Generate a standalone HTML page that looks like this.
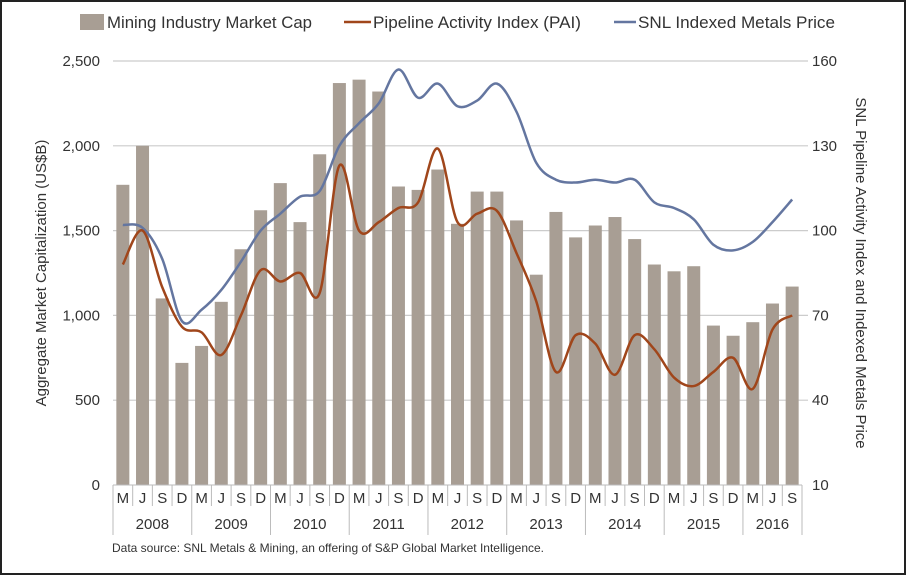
<!DOCTYPE html>
<html><head><meta charset="utf-8"><style>
body{margin:0;background:#fff}
svg{display:block;font-family:"Liberation Sans",sans-serif}
</style></head><body>
<svg id="c" width="906" height="576" viewBox="0 0 906 576">
<rect x="1" y="1" width="904" height="573" fill="#fff" stroke="#222" stroke-width="2"/>
<g id="grid"></g><g id="bars"></g><g id="lines"></g><g id="axes"></g>
<g font-size="17" fill="#333">
<rect x="80" y="14" width="24" height="16" fill="#a89e94"/>
<text x="107" y="28" textLength="205" lengthAdjust="spacingAndGlyphs">Mining Industry Market Cap</text>
<line x1="344" y1="22" x2="371" y2="22" stroke="#a0461b" stroke-width="2.5"/>
<text x="373" y="28" textLength="208" lengthAdjust="spacingAndGlyphs">Pipeline Activity Index (PAI)</text>
<line x1="614" y1="22" x2="636" y2="22" stroke="#6476a0" stroke-width="2.5"/>
<text x="638" y="28" textLength="197" lengthAdjust="spacingAndGlyphs">SNL Indexed Metals Price</text>
</g>
<text transform="translate(46,273) rotate(-90)" text-anchor="middle" font-size="15" fill="#333">Aggregate Market Capitalization (US$B)</text>
<text transform="translate(856,273) rotate(90)" text-anchor="middle" font-size="15" fill="#333">SNL Pipeline Activity Index and Indexed Metals Price</text>
<text x="112" y="552" font-size="12" fill="#333">Data source: SNL Metals &amp; Mining, an offering of S&amp;P Global Market Intelligence.</text>
</svg>
<script>
const months=["M","J","S","D","M","J","S","D","M","J","S","D","M","J","S","D","M","J","S","D","M","J","S","D","M","J","S","D","M","J","S","D","M","J","S"];
const years=["2008","2009","2010","2011","2012","2013","2014","2015","2016"];
const marketCap=[1770,2000,1100,720,820,1080,1390,1620,1780,1550,1950,2370,2390,2320,1760,1740,1860,1540,1730,1730,1560,1240,1610,1460,1530,1580,1450,1300,1260,1290,940,880,960,1070,1170];
const pai=[88,100,80,66,64,56,70,86,82,85,78,123,100,103,108,110,129,103,106,107,92,75,50,63,60,49,63,58,48,45,50,55,44,65,70];
const snl=[102,101,90,68,72,79,89,100,106,112,114,130,138,145,157,147,152,144,146,152,142,124,118,117,118,117,118,110,108,104,95,93,96,103,111];
const leftTicks=[0,500,1000,1500,2000,2500];
const rightTicks=[10,40,70,100,130,160];
const NS="http://www.w3.org/2000/svg";
const X0=113,X1=802,YT=61,YB=485;
const bw=(X1-X0)/months.length;
const xc=i=>X0+bw*(i+0.5);
const yL=v=>YB-(v/2500)*(YB-YT);
const yR=v=>YB-((v-10)/150)*(YB-YT);
function mk(tag,attrs,parent){const e=document.createElementNS(NS,tag);for(const k in attrs)e.setAttribute(k,attrs[k]);parent.appendChild(e);return e;}
const grid=document.getElementById('grid'),bars=document.getElementById('bars'),lines=document.getElementById('lines'),axes=document.getElementById('axes');
leftTicks.forEach((t,k)=>{
  const y=yL(t);
  if(t>0){const l=mk('line',{x1:X0,x2:X1+6,y1:y,y2:y,stroke:'#ccc','stroke-width':1.2},grid);
  
  }
  const a=mk('text',{x:100,y:y+5,'text-anchor':'end','font-size':15,fill:'#333'},axes);a.textContent=t.toLocaleString('en-US');
  
  
  const r=rightTicks[k];const b=mk('text',{x:812,y:yR(r)+5,'font-size':15,fill:'#333'},axes);b.textContent=r;
  
  
});
marketCap.forEach((v,i)=>{
  const r=mk('rect',{x:xc(i)-6.5,y:yL(v),width:13,height:YB-yL(v),fill:'#a89e94'},bars);
  
  
});
function smooth(pts){let d=`M${pts[0][0]},${pts[0][1]}`;for(let i=0;i<pts.length-1;i++){const p0=pts[i-1]||pts[i],p1=pts[i],p2=pts[i+1],p3=pts[i+2]||p2;const t=0.5/3;d+=` C${p1[0]+(p2[0]-p0[0])*t},${p1[1]+(p2[1]-p0[1])*t} ${p2[0]-(p3[0]-p1[0])*t},${p2[1]-(p3[1]-p1[1])*t} ${p2[0]},${p2[1]}`;}return d;}
const ps=mk('path',{d:smooth(snl.map((v,i)=>[xc(i),yR(v)])),fill:'none',stroke:'#6476a0','stroke-width':2.5},lines);


const pp=mk('path',{d:smooth(pai.map((v,i)=>[xc(i),yR(v)])),fill:'none',stroke:'#a0461b','stroke-width':2.5},lines);


mk('line',{x1:X0,x2:X1,y1:YB,y2:YB,stroke:'#bbb','stroke-width':1},axes);
months.forEach((m,i)=>{
  const x=X0+bw*i;
  mk('line',{x1:x,x2:x,y1:YB,y2:(i%4==0)?535:506,stroke:'#bbb','stroke-width':1},axes);
  const t=mk('text',{x:xc(i),y:503,'text-anchor':'middle','font-size':15,fill:'#333'},axes);t.textContent=m;
  
  
});
mk('line',{x1:X1,x2:X1,y1:YB,y2:535,stroke:'#bbb','stroke-width':1},axes);
years.forEach((y,k)=>{
  const n=Math.min(4,months.length-4*k);
  const t=mk('text',{x:X0+bw*(4*k+n/2),y:529,'text-anchor':'middle','font-size':15,fill:'#333'},axes);t.textContent=y;
  
  
});
</script>
</body></html>
